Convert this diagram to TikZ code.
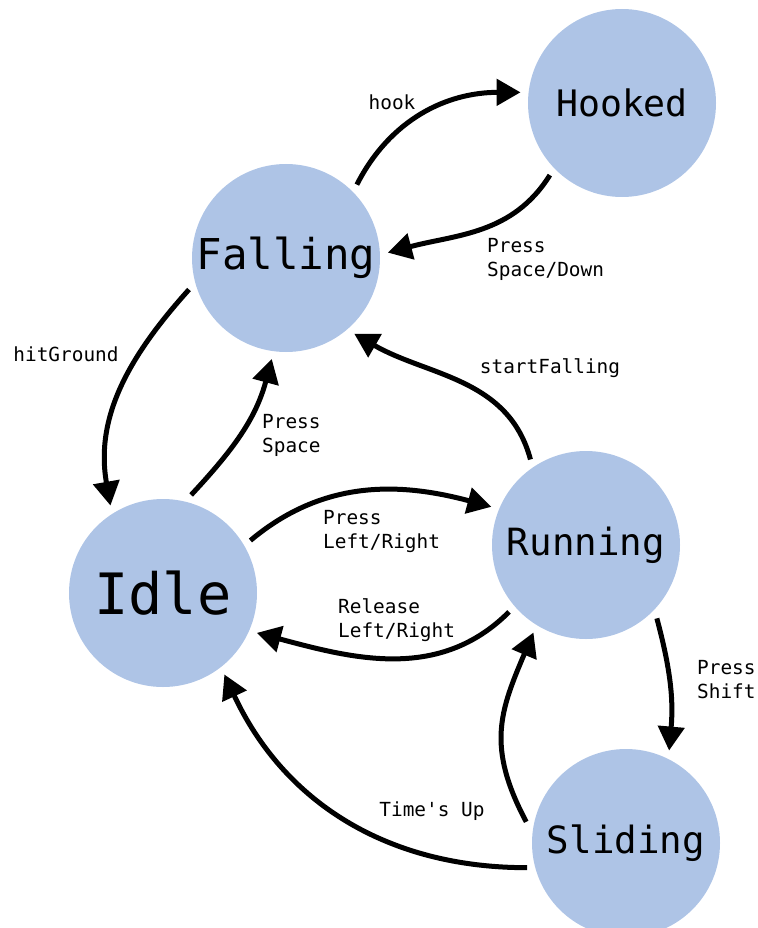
\documentclass[tikz,border=0pt]{standalone}
\usepackage{fontspec}
\setmonofont{DejaVu Sans Mono}
\usetikzlibrary{arrows.meta}
\definecolor{statefill}{RGB}{174,196,230}
\begin{document}
\begin{tikzpicture}[x=1pt,y=-1pt,
  state/.style={circle, fill=statefill, minimum size=188pt, inner sep=0pt, outer sep=8pt},
  trans/.style={line width=5pt, -{Triangle[length=24pt,width=26pt]}},
  lbl/.style={font=\ttfamily\fontsize{19.4}{24}\selectfont, inner sep=0pt, align=left}]
\useasboundingbox (0,0) rectangle (757,928);
\clip (0,0) rectangle (757,928);
\node[state, font=\ttfamily\fontsize{36.5}{40}\selectfont] (hooked) at (622,103) {Hooked};
\node[state, font=\ttfamily\fontsize{42.5}{46}\selectfont] (falling) at (286,258) {Falling};
\node[state, font=\ttfamily\fontsize{57}{60}\selectfont] (idle) at (163,593) {Idle};
\node[state, font=\ttfamily\fontsize{37.5}{40}\selectfont] (running) at (586,545) {Running};
\node[state, font=\ttfamily\fontsize{37.5}{40}\selectfont] (sliding) at (626,843) {Sliding};

\draw[trans] (falling.46) to[out=63,in=180] (hooked.174);
\draw[trans] (hooked.225) to[out=238,in=15] (falling.3);
\draw[trans] (falling.198) to[out=228,in=100] (idle.121);
\draw[trans] (idle.74) to[out=47,in=-105] (falling.262);
\draw[trans] (running.123) to[out=105,in=-30] (falling.-48);
\draw[trans] (idle.31) to[out=40,in=165] (running.158);
\draw[trans] (running.221) to[out=225,in=-15] (idle.-23);
\draw[trans] (running.-46) to[out=-75,in=85] (sliding.65);
\draw[trans] (sliding.168) to[out=118,in=247,looseness=1.15] (running.239);
\draw[trans] (sliding.194) to[out=180,in=-65] (idle.-53);

\node[lbl] (lhook) at (392,102) {hook};
\node[lbl, anchor=west] (lpsd) at (487,259) {Press\\Space/Down};
\node[lbl] (lhit) at (66,354) {hitGround};
\node[lbl, anchor=west] (lps) at (262,435) {Press\\Space};
\node[lbl] (lstart) at (550,368) {startFalling};
\node[lbl, anchor=west] (lplr) at (323,532) {Press\\Left/Right};
\node[lbl, anchor=west] (lrlr) at (338,620) {Release\\Left/Right};
\node[lbl, anchor=west] (lpsh) at (697,680) {Press\\Shift};
\node[lbl] (ltime) at (432,811) {Time's Up};
\end{tikzpicture}
\end{document}
